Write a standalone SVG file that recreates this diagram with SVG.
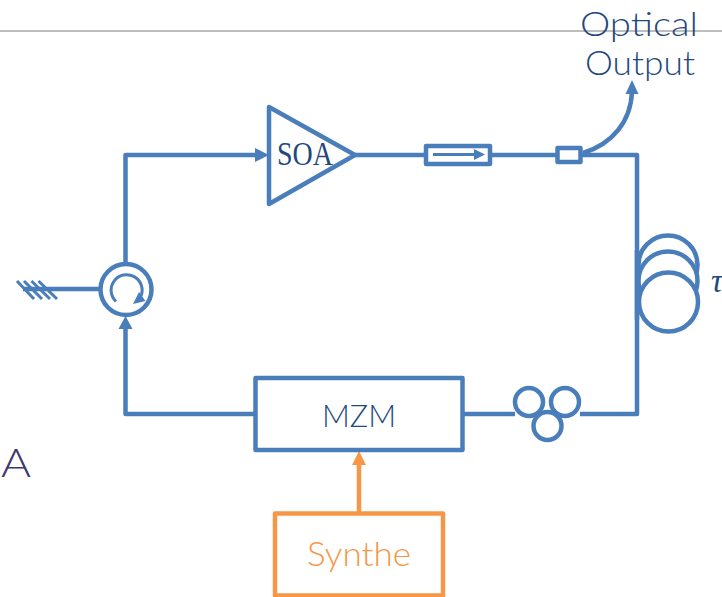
<svg xmlns="http://www.w3.org/2000/svg" width="722" height="597" viewBox="0 0 722 597">
<style>
.l{fill:none;stroke:#4a7ebb;stroke-width:4.500;stroke-linejoin:round}
.w{fill:#fff}
.t{stroke-width:3}
.f{fill:#4a7ebb;stroke:none}
.txt{font-family:"Lato","Liberation Sans",sans-serif;font-weight:300;fill:#1f497d}
.ser{font-family:"Liberation Serif",serif;fill:#1f497d}
</style>
<rect width="722" height="597" fill="#fff"/>
<line id="rule" x1="0" y1="31" x2="722" y2="31" stroke="#bdbdbd" stroke-width="2"/>
<g id="connectors">
<path class="l" d="M125.500 262V155H258"/>
<path class="f" d="M255 148L269 155L255 162Z"/>
<path class="l" d="M355 155H426M491 155H557M581 155H637V414H580M515 414H463"/>
<path class="l" d="M255 414H125.500V326"/>
<path class="f" d="M125.500 316L132.500 329H118.500Z"/>
<path class="l" d="M99 289H23"/>
<path class="l" d="M583 153C612 144 631 122 632 91"/>
<path class="f" d="M632 80L638.500 94H625.500Z"/>
<path d="M359 513V462" fill="none" stroke="#f79646" stroke-width="4.500"/>
<path d="M359 451L366 465H352Z" fill="#f79646"/>
</g>
<g id="termination">
<path class="l t" d="M17 281L34 299M24 281L42 299M31.500 281L50 299M38.500 281L57 299"/>
</g>
<g id="circulator">
<circle class="l" cx="126" cy="289.500" r="25.500"/>
<path class="l t" d="M116 301.500A15.500 15.500 0 1 1 141 296"/>
<path class="f" d="M133 304L139 292L145.500 301Z"/>
</g>
<g id="soa">
<path class="l w" d="M269 107V204L355 155Z"/>
<text class="ser" x="277" y="165" font-size="33" textLength="56" lengthAdjust="spacingAndGlyphs">SOA</text>
</g>
<g id="isolator">
<rect class="l" x="426" y="146" width="64" height="18"/>
<path class="l t" d="M433 154.500H476"/>
<path class="f" d="M474 149L485 154.500L474 160Z"/>
</g>
<g id="coupler">
<rect class="l w" x="557.500" y="148" width="23" height="14"/>
</g>
<g id="optical-output">
<text class="txt" x="639" y="36" font-size="34" text-anchor="middle" textLength="118" lengthAdjust="spacingAndGlyphs">Optical</text>
<text class="txt" x="640" y="75" font-size="34" text-anchor="middle" textLength="110" lengthAdjust="spacingAndGlyphs">Output</text>
</g>
<g id="delay-coil">
<circle class="l w" cx="668" cy="265" r="29.500"/>
<circle class="l w" cx="668" cy="281" r="29.500"/>
<circle class="l w" cx="668.500" cy="302" r="29.500"/>
<path class="l" d="M637 250V320"/>
<text class="ser" x="711" y="292" font-size="33" font-style="italic">τ</text>
</g>
<g id="polarization-controller">
<circle class="l w" cx="529" cy="402" r="14"/>
<circle class="l w" cx="565" cy="402" r="14"/>
<circle class="l w" cx="547.500" cy="426" r="14"/>
</g>
<g id="mzm">
<rect class="l w" x="255.500" y="378" width="207" height="72"/>
<text class="txt" x="359" y="427" font-size="32" text-anchor="middle" textLength="74" lengthAdjust="spacingAndGlyphs">MZM</text>
</g>
<g id="synthe">
<rect x="275" y="513.500" width="168" height="82" fill="none" stroke="#f79646" stroke-width="4.500" stroke-linejoin="round"/>
<text x="359" y="566" font-size="33" font-weight="300" text-anchor="middle" textLength="104" lengthAdjust="spacingAndGlyphs" font-family="Lato,'Liberation Sans',sans-serif" fill="#f79646">Synthe</text>
</g>
<text id="a" class="txt" x="1" y="477" font-size="40" textLength="30" lengthAdjust="spacingAndGlyphs" style="fill:#3c3a6e">A</text>
</svg>
